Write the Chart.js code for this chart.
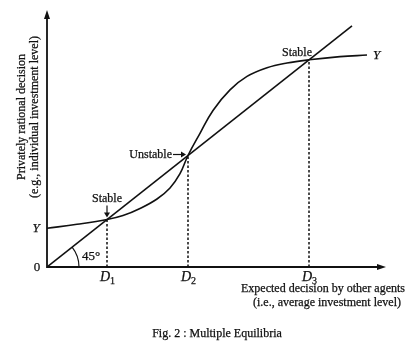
<!DOCTYPE html>
<html>
<head>
<meta charset="utf-8">
<script src="https://cdn.jsdelivr.net/npm/chart.js@4/dist/chart.umd.min.js"></script>
<style>
  html, body { margin: 0; padding: 0; background: #fff; }
  #wrap { width: 414px; height: 350px; position: relative; }
</style>
</head>
<body>
<div id="wrap"><canvas id="chart"></canvas></div>
<script>
// reaction curve Y (privately rational decision vs expected decision)
const curveX = [0, 30, 60, 76, 93, 110, 123, 133, 141, 153, 166, 183, 200, 220, 240, 262, 293, 320];
const curveY = [49, 54, 60, 65, 74, 86, 100, 118, 141, 169, 198, 224, 241, 252, 258, 262, 266, 268];

// 45 degree line
const diagX = [0, 305];

// equilibria
const eqX = [60, 141, 262];
const eqNames = ["1", "2", "3"];
const eqLabels = ["Stable", "Unstable", "Stable"];

const xMax = 339;
const yMax = 325;

const SERIF = '"Liberation Serif", "DejaVu Serif", serif';
const INK = "#111";

const curveData = curveX.map((x, i) => ({ x, y: curveY[i] }));
const diagData = diagX.map((x) => ({ x, y: x }));

const dropLines = eqX.map((x) => ({
  data: [{ x, y: 0 }, { x, y: x }],
  borderColor: INK,
  borderWidth: 1.5,
  borderDash: [2.5, 2],
  pointRadius: 0,
  fill: false,
}));

// text with a faint outline so it reads like the printed figure
function ink(ctx, text, x, y) {
  ctx.fillText(text, x, y);
  ctx.lineWidth = 0.25;
  ctx.strokeText(text, x, y);
}

const annotate = {
  id: "annotate",
  afterDatasetsDraw(chart) {
    const { ctx, scales } = chart;
    const xs = scales.x;
    const ys = scales.y;
    const x0 = xs.getPixelForValue(0);
    const y0 = ys.getPixelForValue(0);
    const xEnd = xs.getPixelForValue(xMax);
    const yEnd = ys.getPixelForValue(yMax);

    ctx.save();
    ctx.strokeStyle = INK;
    ctx.fillStyle = INK;
    ctx.lineWidth = 1.8;

    // axes
    ctx.beginPath();
    ctx.moveTo(x0, yEnd + 4);
    ctx.lineTo(x0, y0);
    ctx.lineTo(xEnd - 4, y0);
    ctx.stroke();
    // arrowheads
    ctx.beginPath();
    ctx.moveTo(x0, yEnd);
    ctx.lineTo(x0 - 3, yEnd + 9);
    ctx.lineTo(x0 + 3, yEnd + 9);
    ctx.closePath();
    ctx.fill();
    ctx.beginPath();
    ctx.moveTo(xEnd, y0);
    ctx.lineTo(xEnd - 9, y0 - 3);
    ctx.lineTo(xEnd - 9, y0 + 3);
    ctx.closePath();
    ctx.fill();

    // 45 degree arc
    const px = xs.getPixelForValue(100) - x0;
    const py = y0 - ys.getPixelForValue(100);
    const ang = Math.atan2(py, px);
    ctx.lineWidth = 1.2;
    ctx.beginPath();
    ctx.arc(x0, y0, 32, -ang, 0);
    ctx.stroke();

    ctx.textBaseline = "middle";
    ctx.font = `13px ${SERIF}`;
    ctx.textAlign = "left";
    ink(ctx, "45°", x0 + 35, y0 - 10);

    // origin and intercept
    ctx.textAlign = "center";
    ctx.font = `13px ${SERIF}`;
    ink(ctx, "0", x0 - 10, y0 + 1);
    ctx.font = `italic 13px ${SERIF}`;
    ink(ctx, "Y", x0 - 11, ys.getPixelForValue(curveY[0]));
    const last = curveX.length - 1;
    ctx.textAlign = "left";
    ink(ctx, "Y", xs.getPixelForValue(curveX[last]) + 6, ys.getPixelForValue(curveY[last]) + 1);

    // D labels
    eqX.forEach((x, i) => {
      const cx = xs.getPixelForValue(x);
      ctx.textAlign = "right";
      ctx.font = `italic 14px ${SERIF}`;
      ink(ctx, "D", cx + 3, y0 + 10);
      ctx.textAlign = "left";
      ctx.font = `10px ${SERIF}`;
      ink(ctx, eqNames[i], cx + 3, y0 + 14);
    });

    // stability labels
    ctx.font = `12px ${SERIF}`;
    eqX.forEach((x, i) => {
      const cx = xs.getPixelForValue(x);
      const cy = ys.getPixelForValue(x);
      if (i === 1) {
        ctx.textAlign = "right";
        ink(ctx, eqLabels[i], cx - 16, cy - 1);
        ctx.lineWidth = 1.2;
        ctx.beginPath();
        ctx.moveTo(cx - 15, cy - 1);
        ctx.lineTo(cx - 4, cy - 1);
        ctx.stroke();
        ctx.beginPath();
        ctx.moveTo(cx - 2, cy - 1);
        ctx.lineTo(cx - 7, cy - 4);
        ctx.lineTo(cx - 7, cy + 2);
        ctx.closePath();
        ctx.fill();
      } else if (i === 0) {
        ctx.textAlign = "center";
        ink(ctx, eqLabels[i], cx, cy - 21);
        ctx.lineWidth = 1.2;
        ctx.beginPath();
        ctx.moveTo(cx, cy - 14);
        ctx.lineTo(cx, cy - 5);
        ctx.stroke();
        ctx.beginPath();
        ctx.moveTo(cx, cy - 2);
        ctx.lineTo(cx - 3, cy - 7);
        ctx.lineTo(cx + 3, cy - 7);
        ctx.closePath();
        ctx.fill();
      } else {
        ctx.textAlign = "center";
        ink(ctx, eqLabels[i], cx - 12, cy - 7);
      }
    });

    // axis titles
    ctx.font = `12px ${SERIF}`;
    ctx.textAlign = "center";
    ink(ctx, "Expected decision by other agents", 323, y0 + 22);
    ink(ctx, "(i.e., average investment level)", 327, y0 + 36);

    ctx.save();
    ctx.translate(22, 117);
    ctx.rotate(-Math.PI / 2);
    ink(ctx, "Privately rational decision", 0, 0);
    ctx.restore();
    ctx.save();
    ctx.translate(35, 117);
    ctx.rotate(-Math.PI / 2);
    ink(ctx, "(e.g., individual investment level)", 0, 0);
    ctx.restore();

    // caption
    ctx.font = `12px ${SERIF}`;
    ink(ctx, "Fig. 2 : Multiple Equilibria", 217, 334);

    ctx.restore();
  },
};

new Chart(document.getElementById("chart"), {
  type: "line",
  data: {
    datasets: [
      {
        data: curveData,
        borderColor: INK,
        borderWidth: 1.6,
        pointRadius: 0,
        tension: 0.4,
        fill: false,
      },
      {
        data: diagData,
        borderColor: INK,
        borderWidth: 1.6,
        pointRadius: 0,
        fill: false,
      },
      ...dropLines,
    ],
  },
  options: {
    responsive: true,
    maintainAspectRatio: false,
    animation: false,
    layout: { padding: { left: 47, right: 28, top: 10, bottom: 83 } },
    scales: {
      x: { type: "linear", min: 0, max: xMax, display: false },
      y: { type: "linear", min: 0, max: yMax, display: false },
    },
    plugins: {
      legend: { display: false },
      tooltip: { enabled: false },
    },
  },
  plugins: [annotate],
});
</script>
</body>
</html>
